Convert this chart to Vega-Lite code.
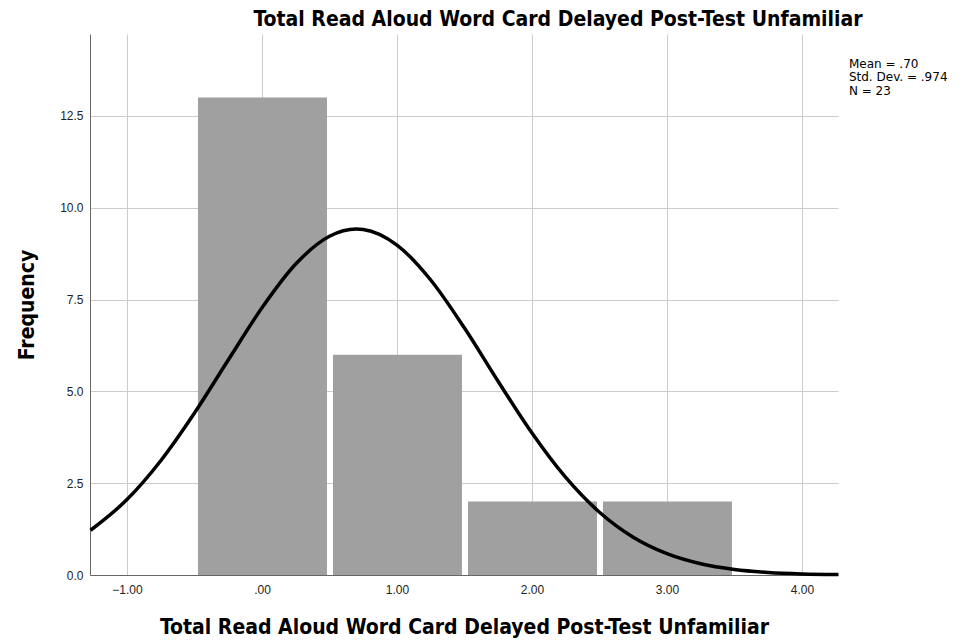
{
  "$schema": "https://vega.github.io/schema/vega-lite/v6.json",
  "width": 748,
  "height": 541,
  "autosize": {"type": "none"},
  "padding": {"left": 90, "top": 34, "right": 125, "bottom": 65},
  "background": "white",
  "title": {
    "text": "Total Read Aloud Word Card Delayed Post-Test Unfamiliar",
    "font": "DejaVu Sans Condensed",
    "fontSize": 21,
    "fontWeight": "bold",
    "color": "#000000",
    "anchor": "middle",
    "dx": 94,
    "offset": 4
  },
  "config": {
    "view": {"stroke": null},
    "axis": {
      "labelFont": "Liberation Sans",
      "labelFontSize": 12,
      "labelColor": "#222222",
      "titleFont": "DejaVu Sans Condensed",
      "titleFontSize": 21,
      "titleFontWeight": "bold",
      "titleColor": "#000000",
      "gridColor": "#cccccc",
      "gridWidth": 1,
      "gridOpacity": 1,
      "domainColor": "#666666",
      "domainWidth": 1,
      "ticks": false
    }
  },
  "datasets": {
    "bars": [
      {"start": -0.5, "end": 0.5, "count": 13},
      {"start": 0.5, "end": 1.5, "count": 6},
      {"start": 1.5, "end": 2.5, "count": 2},
      {"start": 2.5, "end": 3.5, "count": 2}
    ],
    "curve": [
      {"x": -1.27, "y": 1.218},
      {"x": -1.0, "y": 2.053},
      {"x": -0.75, "y": 3.110},
      {"x": -0.5, "y": 4.409},
      {"x": -0.25, "y": 5.854},
      {"x": 0.0, "y": 7.276},
      {"x": 0.25, "y": 8.467},
      {"x": 0.5, "y": 9.223},
      {"x": 0.7, "y": 9.420},
      {"x": 0.75, "y": 9.408},
      {"x": 1.0, "y": 8.984},
      {"x": 1.25, "y": 8.032},
      {"x": 1.5, "y": 6.723},
      {"x": 1.75, "y": 5.269},
      {"x": 2.0, "y": 3.866},
      {"x": 2.25, "y": 2.656},
      {"x": 2.5, "y": 1.708},
      {"x": 2.75, "y": 1.028},
      {"x": 3.0, "y": 0.580},
      {"x": 3.25, "y": 0.306},
      {"x": 3.5, "y": 0.151},
      {"x": 3.75, "y": 0.070},
      {"x": 4.0, "y": 0.030},
      {"x": 4.27, "y": 0.011}
    ],
    "stats": [
      {"x": 4.348, "y": 13.92, "label": "Mean = .70"},
      {"x": 4.348, "y": 13.55, "label": "Std. Dev. = .974"},
      {"x": 4.348, "y": 13.18, "label": "N = 23"}
    ]
  },
  "layer": [
    {
      "data": {"name": "bars"},
      "mark": {"type": "bar", "color": "#a0a0a0", "binSpacing": 6},
      "encoding": {
        "x": {
          "field": "start",
          "type": "quantitative",
          "bin": "binned",
          "scale": {"domain": [-1.274, 4.267], "nice": false, "zero": false},
          "axis": {
            "values": [-1, 0, 1, 2, 3, 4],
            "labelExpr": "datum.value == 0 ? '.00' : format(datum.value, '.2f')",
            "labelPadding": 9,
            "title": "Total Read Aloud Word Card Delayed Post-Test Unfamiliar",
            "titlePadding": 21,
            "grid": true
          }
        },
        "x2": {"field": "end"},
        "y": {
          "field": "count",
          "type": "quantitative",
          "scale": {"domain": [0, 14.73], "nice": false},
          "axis": {
            "values": [0, 2.5, 5, 7.5, 10, 12.5],
            "format": ".1f",
            "labelPadding": 7,
            "title": "Frequency",
            "titlePadding": 22,
            "grid": true
          }
        }
      }
    },
    {
      "data": {"name": "curve"},
      "mark": {"type": "line", "color": "#000000", "strokeWidth": 3.5, "interpolate": "monotone"},
      "encoding": {
        "x": {"field": "x", "type": "quantitative"},
        "y": {"field": "y", "type": "quantitative"}
      }
    },
    {
      "data": {"name": "stats"},
      "mark": {"type": "text", "align": "left", "baseline": "middle", "font": "DejaVu Sans", "fontSize": 12, "color": "#000000"},
      "encoding": {
        "x": {"field": "x", "type": "quantitative"},
        "y": {"field": "y", "type": "quantitative"},
        "text": {"field": "label"}
      }
    }
  ]
}
